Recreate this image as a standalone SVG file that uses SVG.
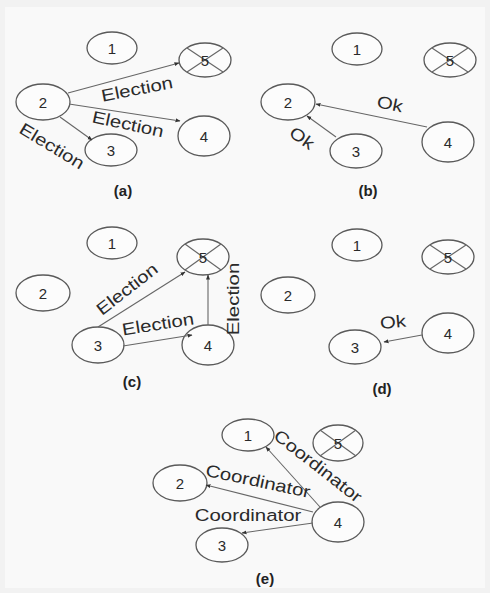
<svg xmlns="http://www.w3.org/2000/svg" width="490" height="593" viewBox="0 0 490 593">
<defs>
<marker id="ah" viewBox="0 0 10 10" refX="9" refY="5" markerWidth="5" markerHeight="5" orient="auto" markerUnits="userSpaceOnUse">
<path d="M0,1 L10,5 L0,9 z" fill="#333"/>
</marker>
<style>
.n ellipse{fill:#fcfcfc;stroke:#5a5a5a;stroke-width:1.3}
.n text{font-family:"Liberation Sans",Arial,sans-serif;font-size:15px;fill:#2a2a2a;text-anchor:middle;dominant-baseline:central}
.x line{stroke:#666;stroke-width:1.2}
.c line{stroke:#666;stroke-width:1.1;marker-end:url(#ah)}
.lb{font-family:"Liberation Sans",Arial,sans-serif;font-size:17px;fill:#2a2a2a;text-anchor:middle;dominant-baseline:central}
.cap{font-family:"Liberation Sans",Arial,sans-serif;font-size:15px;font-weight:bold;fill:#222;text-anchor:middle;dominant-baseline:central}
</style>
</defs>
<rect width="490" height="593" fill="#f2f2f2"/>
<rect x="5" y="7" width="480" height="581" fill="#f9f9f9"/>

<!-- Panel (a) -->
<g id="a1" class="n"><ellipse cx="112" cy="48" rx="25" ry="16"/><text x="112" y="48">1</text></g>
<g id="a5" class="n x"><ellipse cx="205" cy="60" rx="26" ry="17"/><line x1="187" y1="48" x2="223" y2="72"/><line x1="187" y1="72" x2="223" y2="48"/><text x="205" y="60">5</text></g>
<g id="a2" class="n"><ellipse cx="43" cy="102" rx="27" ry="18"/><text x="43" y="102">2</text></g>
<g id="a4" class="n"><ellipse cx="204" cy="136" rx="26" ry="20"/><text x="204" y="136">4</text></g>
<g id="a3" class="n"><ellipse cx="111" cy="150" rx="26" ry="16"/><text x="111" y="150">3</text></g>

<!-- Panel (b) -->
<g id="b1" class="n"><ellipse cx="357" cy="49" rx="25" ry="16"/><text x="357" y="49">1</text></g>
<g id="b5" class="n x"><ellipse cx="450" cy="60" rx="26" ry="17"/><line x1="432" y1="48" x2="468" y2="72"/><line x1="432" y1="72" x2="468" y2="48"/><text x="450" y="60">5</text></g>
<g id="b2" class="n"><ellipse cx="288" cy="102" rx="27" ry="18"/><text x="288" y="102">2</text></g>
<g id="b4" class="n"><ellipse cx="448" cy="142" rx="26" ry="20"/><text x="448" y="142">4</text></g>
<g id="b3" class="n"><ellipse cx="356" cy="151" rx="26" ry="17"/><text x="356" y="151">3</text></g>

<!-- Panel (c) -->
<g id="c1" class="n"><ellipse cx="112" cy="243" rx="25" ry="16"/><text x="112" y="243">1</text></g>
<g id="c5" class="n x"><ellipse cx="203" cy="257" rx="26" ry="18"/><line x1="185" y1="244" x2="221" y2="270"/><line x1="185" y1="270" x2="221" y2="244"/><text x="203" y="257">5</text></g>
<g id="c2" class="n"><ellipse cx="43" cy="293" rx="27" ry="18"/><text x="43" y="293">2</text></g>
<g id="c3" class="n"><ellipse cx="98" cy="345" rx="26" ry="18"/><text x="98" y="345">3</text></g>
<g id="c4" class="n"><ellipse cx="208" cy="345" rx="26" ry="20"/><text x="208" y="345">4</text></g>

<!-- Panel (d) -->
<g id="d1" class="n"><ellipse cx="357" cy="245" rx="25" ry="16"/><text x="357" y="245">1</text></g>
<g id="d5" class="n x"><ellipse cx="448" cy="257" rx="26" ry="17"/><line x1="430" y1="245" x2="466" y2="269"/><line x1="430" y1="269" x2="466" y2="245"/><text x="448" y="257">5</text></g>
<g id="d2" class="n"><ellipse cx="288" cy="295" rx="27" ry="18"/><text x="288" y="295">2</text></g>
<g id="d3" class="n"><ellipse cx="355" cy="347" rx="26" ry="17"/><text x="355" y="347">3</text></g>
<g id="d4" class="n"><ellipse cx="448" cy="333" rx="26" ry="20"/><text x="448" y="333">4</text></g>

<!-- Panel (e) -->
<g id="e1" class="n"><ellipse cx="248" cy="435" rx="26" ry="16"/><text x="248" y="435">1</text></g>
<g id="e5" class="n x"><ellipse cx="338" cy="443" rx="25" ry="18"/><line x1="320" y1="430" x2="356" y2="456"/><line x1="320" y1="456" x2="356" y2="430"/><text x="338" y="443">5</text></g>
<g id="e2" class="n"><ellipse cx="180" cy="483" rx="27" ry="18"/><text x="180" y="483">2</text></g>
<g id="e4" class="n"><ellipse cx="338" cy="522" rx="26" ry="20"/><text x="338" y="522">4</text></g>
<g id="e3" class="n"><ellipse cx="222" cy="545" rx="26" ry="17"/><text x="222" y="545">3</text></g>

<g id="connectors" class="c">
<line x1="68" y1="93" x2="179" y2="63"/>
<line x1="69" y1="104" x2="180" y2="121"/>
<line x1="60" y1="117" x2="92" y2="140"/>
<line x1="427" y1="127" x2="316" y2="104"/>
<line x1="336" y1="137" x2="307" y2="116"/>
<line x1="98" y1="327" x2="185" y2="272"/>
<line x1="123" y1="346" x2="192" y2="335"/>
<line x1="208" y1="325" x2="208" y2="275"/>
<line x1="422" y1="335" x2="384" y2="342"/>
<line x1="320" y1="507" x2="266" y2="447"/>
<line x1="313" y1="512" x2="206" y2="485"/>
<line x1="313" y1="523" x2="242" y2="533"/>
</g>

<g id="labels">
<text class="lb" transform="translate(137,89) rotate(-11) scale(1.2,1)">Election</text>
<text class="lb" transform="translate(128,124) rotate(12) scale(1.2,1)">Election</text>
<text class="lb" transform="translate(52,146) rotate(31) scale(1.2,1)">Election</text>
<text class="lb" transform="translate(390,104) rotate(12) scale(1.2,1)">Ok</text>
<text class="lb" transform="translate(302,138) rotate(35) scale(1.2,1)">Ok</text>
<text class="lb" transform="translate(127,289) rotate(-38) scale(1.2,1)">Election</text>
<text class="lb" transform="translate(158,324) rotate(-9) scale(1.2,1)">Election</text>
<text class="lb" transform="translate(233,299) rotate(-90) scale(1.2,1)">Election</text>
<text class="lb" transform="translate(393,322) rotate(-5) scale(1.2,1)">Ok</text>
<text class="lb" transform="translate(318,466) rotate(38) scale(1.2,1)">Coordinator</text>
<text class="lb" transform="translate(258,481) rotate(12) scale(1.2,1)">Coordinator</text>
<text class="lb" transform="translate(248,515) scale(1.2,1)">Coordinator</text>
<text class="cap" x="123" y="190">(a)</text>
<text class="cap" x="368" y="190">(b)</text>
<text class="cap" x="132" y="381">(c)</text>
<text class="cap" x="382" y="388">(d)</text>
<text class="cap" x="265" y="578">(e)</text>
</g>
</svg>
